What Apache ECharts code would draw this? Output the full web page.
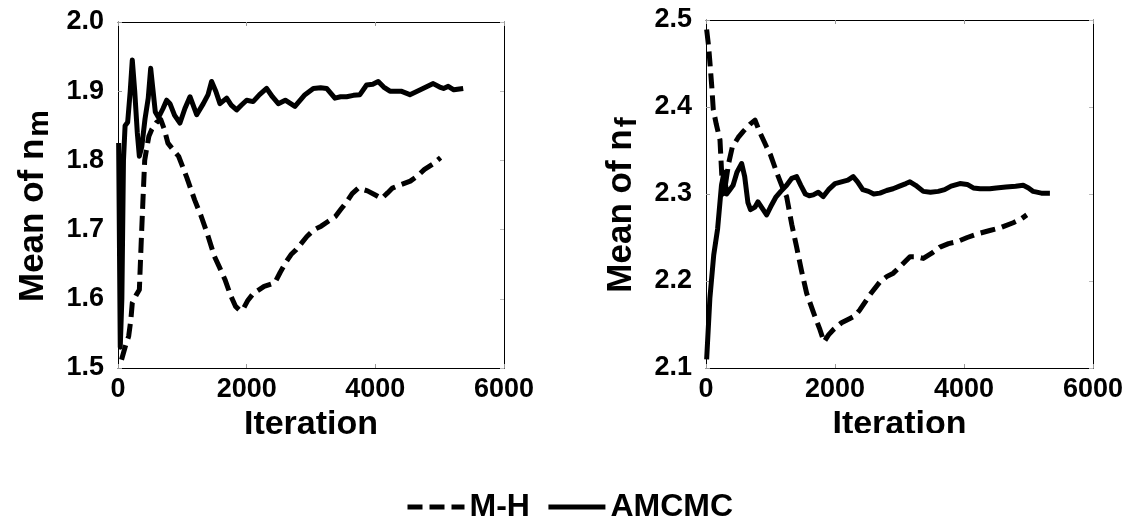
<!DOCTYPE html>
<html>
<head>
<meta charset="utf-8">
<script src="https://cdn.jsdelivr.net/npm/echarts@6/dist/echarts.min.js"></script>
<style>
html,body{margin:0;padding:0;background:#fff;}
#chart{width:1133px;height:521px;}
</style>
</head>
<body>
<div id="chart"></div>
<script>
// ---- data: [iteration, running mean] ----
var seriesNames = ['M-H', 'AMCMC'];
var xTicks = [0, 2000, 4000, 6000];
var nmTicks = [1.5, 1.6, 1.7, 1.8, 1.9, 2.0];
var nfTicks = [2.1, 2.2, 2.3, 2.4, 2.5];

var nmMH = [[55,1.512],[110,1.53],[166,1.546],[200,1.57],[222,1.594],[280,1.605],[332,1.613],[360,1.68],[388,1.743],[415,1.80],[443,1.816],[480,1.835],[526,1.845],[600,1.855],[665,1.859],[720,1.845],[776,1.825],[860,1.815],[942,1.806],[1070,1.775],[1191,1.743],[1290,1.72],[1385,1.695],[1496,1.662],[1580,1.645],[1662,1.628],[1750,1.605],[1828,1.589],[1896,1.583],[1939,1.584],[2020,1.598],[2105,1.608],[2190,1.613],[2271,1.618],[2438,1.623],[2520,1.638],[2604,1.652],[2690,1.664],[2770,1.671],[2936,1.69],[3050,1.70],[3158,1.705],[3270,1.712],[3379,1.719],[3470,1.73],[3546,1.739],[3640,1.752],[3735,1.760],[3878,1.756],[4000,1.75],[4098,1.745],[4190,1.753],[4266,1.760],[4400,1.765],[4543,1.770],[4650,1.777],[4764,1.787],[4900,1.795],[5014,1.804]];

var nmAMCMC = [[10,1.825],[35,1.53],[60,1.60],[85,1.80],[110,1.85],[150,1.855],[190,1.90],[222,1.945],[260,1.90],[300,1.84],[332,1.806],[370,1.82],[420,1.86],[470,1.89],[508,1.933],[540,1.905],[580,1.87],[630,1.862],[700,1.875],[756,1.887],[808,1.882],[880,1.865],[963,1.854],[1040,1.875],[1119,1.892],[1223,1.866],[1326,1.882],[1400,1.895],[1455,1.914],[1520,1.9],[1585,1.882],[1689,1.89],[1760,1.88],[1844,1.873],[1920,1.88],[2000,1.887],[2100,1.885],[2200,1.895],[2310,1.904],[2400,1.892],[2492,1.882],[2600,1.887],[2750,1.878],[2906,1.895],[3036,1.904],[3150,1.905],[3243,1.904],[3372,1.89],[3460,1.892],[3553,1.892],[3660,1.894],[3760,1.895],[3864,1.909],[3960,1.91],[4045,1.914],[4130,1.906],[4227,1.90],[4400,1.90],[4537,1.895],[4700,1.902],[4900,1.911],[5000,1.906],[5060,1.904],[5133,1.907],[5220,1.902],[5366,1.904]];

var nfMH = [[10,2.489],[40,2.47],[62,2.45],[90,2.423],[113,2.397],[160,2.38],[217,2.362],[243,2.324],[266,2.30],[300,2.31],[350,2.335],[408,2.354],[500,2.365],[578,2.372],[680,2.38],[760,2.385],[840,2.37],[940,2.354],[1000,2.345],[1100,2.324],[1200,2.305],[1250,2.297],[1330,2.265],[1405,2.239],[1480,2.212],[1560,2.186],[1660,2.165],[1767,2.144],[1830,2.13],[1900,2.138],[1973,2.144],[2100,2.152],[2232,2.157],[2310,2.16],[2387,2.167],[2550,2.185],[2697,2.199],[2800,2.205],[2904,2.209],[3030,2.218],[3162,2.228],[3260,2.228],[3369,2.226],[3500,2.232],[3627,2.239],[3760,2.243],[3885,2.245],[4050,2.25],[4247,2.255],[4400,2.258],[4557,2.261],[4763,2.267],[4880,2.271],[4973,2.276]];

var nfAMCMC = [[10,2.11],[60,2.18],[120,2.23],[180,2.26],[240,2.31],[280,2.325],[320,2.30],[370,2.305],[420,2.31],[480,2.325],[553,2.335],[600,2.32],[650,2.29],[690,2.282],[760,2.285],[806,2.291],[860,2.285],[940,2.276],[1000,2.285],[1080,2.296],[1160,2.303],[1250,2.31],[1330,2.318],[1405,2.32],[1470,2.31],[1540,2.30],[1600,2.298],[1663,2.299],[1740,2.302],[1818,2.297],[1900,2.305],[2000,2.312],[2100,2.314],[2200,2.316],[2282,2.32],[2350,2.314],[2430,2.305],[2520,2.303],[2600,2.30],[2697,2.301],[2800,2.304],[2900,2.306],[3000,2.309],[3100,2.312],[3162,2.314],[3250,2.31],[3369,2.303],[3480,2.302],[3600,2.303],[3700,2.305],[3800,2.309],[3937,2.312],[4050,2.311],[4144,2.307],[4250,2.306],[4400,2.306],[4500,2.307],[4650,2.308],[4800,2.309],[4918,2.310],[5000,2.307],[5073,2.303],[5200,2.301],[5332,2.301]];

// ---- chart ----
var FONT = 'Liberation Sans';
var chart = echarts.init(document.getElementById('chart'), null, {renderer: 'canvas'});

function xMain(gi) {
  return {
    type: 'value', gridIndex: gi, min: xTicks[0], max: xTicks[xTicks.length - 1], interval: 2000,
    name: 'Iteration', nameLocation: 'middle', nameGap: 29,
    nameTextStyle: {fontFamily: FONT, fontWeight: 'bold', fontSize: 34, color: '#000'},
    axisLine: {onZero: false, lineStyle: {color: '#000', width: 1}},
    axisTick: {inside: true, length: 4, lineStyle: {color: '#999'}},
    axisLabel: {fontFamily: FONT, fontWeight: 'bold', fontSize: 27, color: '#000', margin: 8,
      formatter: function (v) { return String(v); }},
    splitLine: {show: false}
  };
}
function xTop(gi) {
  return {
    type: 'value', gridIndex: gi, position: 'top', min: xTicks[0], max: xTicks[xTicks.length - 1], interval: 2000,
    axisLine: {onZero: false, lineStyle: {color: '#000', width: 1}},
    axisTick: {inside: true, length: 4, lineStyle: {color: '#999'}},
    axisLabel: {show: false}, splitLine: {show: false}
  };
}
function yMain(gi, ticks, sub) {
  return {
    type: 'value', gridIndex: gi, min: ticks[0], max: ticks[ticks.length - 1], interval: 0.1,
    name: 'Mean of n{s|' + sub + '}', nameLocation: 'middle', nameGap: 63,
    nameTextStyle: {fontFamily: FONT, fontWeight: 'bold', fontSize: 35, color: '#000', padding: [0, 22, 0, 0],
      rich: {s: {fontFamily: FONT, fontWeight: 'bold', fontSize: 30, color: '#000', padding: [14, 0, 0, 2]}}},
    axisLine: {onZero: false, lineStyle: {color: '#000', width: 1}},
    axisTick: {inside: true, length: 4, lineStyle: {color: '#999'}},
    axisLabel: {fontFamily: FONT, fontWeight: 'bold', fontSize: 27, color: '#000', margin: 14,
      formatter: function (v) { return v.toFixed(1); }},
    splitLine: {show: false}
  };
}
function yRight(gi, ticks) {
  return {
    type: 'value', gridIndex: gi, position: 'right', min: ticks[0], max: ticks[ticks.length - 1], interval: 0.1,
    axisLine: {onZero: false, lineStyle: {color: '#000', width: 1}},
    axisTick: {inside: true, length: 4, lineStyle: {color: '#bbb'}},
    axisLabel: {show: false}, splitLine: {show: false}
  };
}
function mk(name, data, xi, yi) {
  var dashed = name === seriesNames[0];
  return {
    name: name, type: 'line', xAxisIndex: xi, yAxisIndex: yi, data: data,
    symbol: 'none', showSymbol: false, smooth: false, z: dashed ? 3 : 2,
    lineStyle: {color: '#000', width: 5, type: dashed ? [15, 7] : 'solid', cap: 'butt', join: 'round'},
    itemStyle: {color: '#000'}
  };
}

var option = {
  animation: false,
  backgroundColor: '#fff',
  grid: [
    {left: 118, top: 22, width: 386, height: 346, containLabel: false},
    {left: 706, top: 20, width: 387, height: 348, containLabel: false}
  ],
  xAxis: [xMain(0), xTop(0), xMain(1), xTop(1)],
  yAxis: [yMain(0, nmTicks, 'm'), yRight(0, nmTicks), yMain(1, nfTicks, 'f'), yRight(1, nfTicks)],
  legend: {
    data: seriesNames, left: 400, top: 486, itemWidth: 57, itemHeight: 14, itemGap: 16,
    textStyle: {fontFamily: FONT, fontWeight: 'bold', fontSize: 32, color: '#000'},
    itemStyle: {color: 'rgba(0,0,0,0)', borderColor: 'rgba(0,0,0,0)', borderWidth: 0, opacity: 0},
    lineStyle: {width: 5}
  },
  graphic: [
    {type: 'rect', z: 100, shape: {x: 800, y: 433, width: 200, height: 14}, style: {fill: '#fff'}}
  ],
  series: [
    mk(seriesNames[0], nmMH, 0, 0),
    mk(seriesNames[1], nmAMCMC, 0, 0),
    mk(seriesNames[0], nfMH, 2, 2),
    mk(seriesNames[1], nfAMCMC, 2, 2)
  ]
};
chart.setOption(option);
</script>
</body>
</html>
